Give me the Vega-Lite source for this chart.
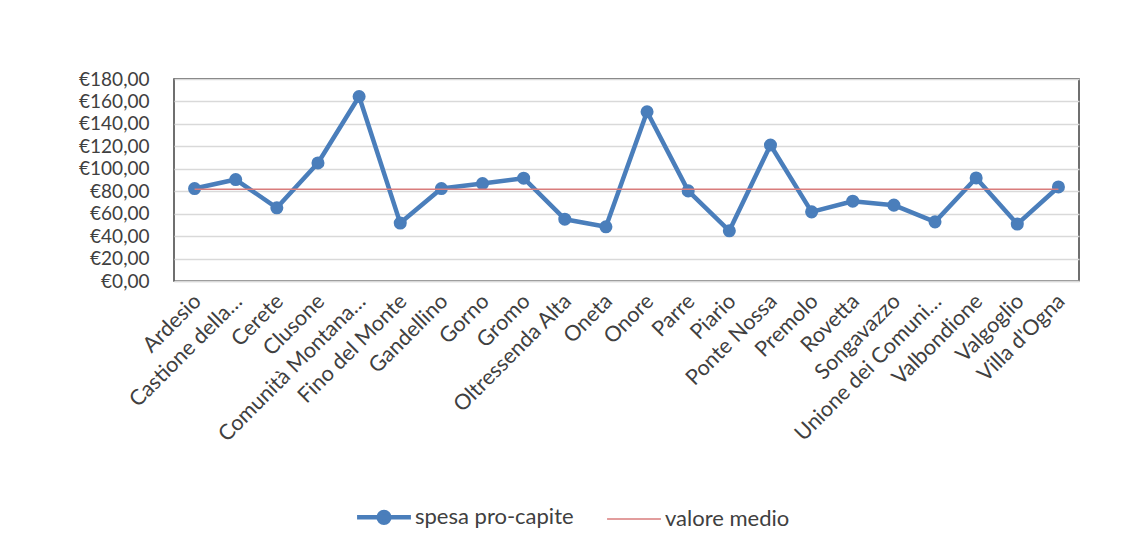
{
  "$schema": "https://vega.github.io/schema/vega-lite/v6.json",
  "autosize": {"type": "none"},
  "padding": {"left": 174, "top": 79, "right": 47, "bottom": 265},
  "width": 905,
  "height": 202,
  "background": "white",
  "config": {
    "font": "Lato",
    "view": {"stroke": "#404040", "strokeWidth": 1.5},
    "axis": {"labelFont": "Lato", "labelColor": "#404040", "ticks": false, "domain": false}
  },
  "data": {
    "values": [
      {"comune": "Ardesio", "spesa pro-capite": 82.4, "valore medio": 81.8},
      {"comune": "Castione della…", "spesa pro-capite": 90.4, "valore medio": 81.8},
      {"comune": "Cerete", "spesa pro-capite": 65.2, "valore medio": 81.8},
      {"comune": "Clusone", "spesa pro-capite": 105.2, "valore medio": 81.8},
      {"comune": "Comunità Montana…", "spesa pro-capite": 164.4, "valore medio": 81.8},
      {"comune": "Fino del Monte", "spesa pro-capite": 51.6, "valore medio": 81.8},
      {"comune": "Gandellino", "spesa pro-capite": 82.4, "valore medio": 81.8},
      {"comune": "Gorno", "spesa pro-capite": 86.8, "valore medio": 81.8},
      {"comune": "Gromo", "spesa pro-capite": 91.6, "valore medio": 81.8},
      {"comune": "Oltressenda Alta", "spesa pro-capite": 55.1, "valore medio": 81.8},
      {"comune": "Oneta", "spesa pro-capite": 48.3, "valore medio": 81.8},
      {"comune": "Onore", "spesa pro-capite": 150.8, "valore medio": 81.8},
      {"comune": "Parre", "spesa pro-capite": 80.3, "valore medio": 81.8},
      {"comune": "Piario", "spesa pro-capite": 44.7, "valore medio": 81.8},
      {"comune": "Ponte Nossa", "spesa pro-capite": 121.2, "valore medio": 81.8},
      {"comune": "Premolo", "spesa pro-capite": 61.6, "valore medio": 81.8},
      {"comune": "Rovetta", "spesa pro-capite": 71.1, "valore medio": 81.8},
      {"comune": "Songavazzo", "spesa pro-capite": 67.6, "valore medio": 81.8},
      {"comune": "Unione dei Comuni…", "spesa pro-capite": 52.7, "valore medio": 81.8},
      {"comune": "Valbondione", "spesa pro-capite": 91.8, "valore medio": 81.8},
      {"comune": "Valgoglio", "spesa pro-capite": 50.7, "valore medio": 81.8},
      {"comune": "Villa d'Ogna", "spesa pro-capite": 83.8, "valore medio": 81.8}
    ]
  },
  "transform": [{"fold": ["spesa pro-capite", "valore medio"], "as": ["serie", "valore"]}],
  "encoding": {
    "x": {
      "field": "comune", "type": "nominal", "sort": null, "title": null,
      "scale": {"type": "point", "padding": 0.5},
      "axis": {"labelAngle": -45, "labelAlign": "right", "labelBaseline": "middle", "labelPadding": 17, "labelOffset": 3, "labelLimit": 0, "labelOverlap": false, "labelFontSize": 21.5, "grid": false, "domain": true, "domainColor": "#d9d9d9", "domainWidth": 1.5}
    },
    "y": {
      "field": "valore", "type": "quantitative", "title": null,
      "scale": {"domain": [0, 180], "nice": false},
      "axis": {"values": [0, 20, 40, 60, 80, 100, 120, 140, 160, 180], "labelExpr": "'€' + replace(format(datum.value, '.2f'), '.', ',')", "labelOverlap": false, "labelPadding": 25, "labelFontSize": 19, "gridColor": "#d9d9d9", "gridWidth": 1.5}
    },
    "color": {
      "field": "serie", "type": "nominal", "title": null,
      "scale": {"domain": ["spesa pro-capite", "valore medio"], "range": ["#4a7ebb", "#d97c7c"]},
      "legend": {
        "orient": "none", "legendX": 199, "legendY": 427, "direction": "horizontal",
        "labelFont": "Lato", "labelFontSize": 22, "labelColor": "#404040",
        "symbolSize": 2900, "symbolStrokeWidth": 4,
        "columnPadding": 30, "labelOffset": 20,
        "encode": {
          "symbols": {
            "update": {
              "shape": {"signal": "datum.value === 'spesa pro-capite' ? 'M-1,0L1,0M0.2,0A0.2,0.2 0 1,1 -0.2,0A0.2,0.2 0 1,1 0.2,0Z' : 'M-1,0L1,0'"},
              "strokeWidth": {"signal": "datum.value === 'spesa pro-capite' ? 4.5 : 1.5"},
              "fill": {"signal": "datum.value === 'spesa pro-capite' ? '#4a7ebb' : 'transparent'"}
            }
          }
        }
      }
    }
  },
  "layer": [
    {
      "transform": [{"filter": "datum.serie === 'spesa pro-capite'"}],
      "mark": {"type": "line", "strokeWidth": 4.5, "strokeJoin": "round"}
    },
    {
      "transform": [{"filter": "datum.serie === 'spesa pro-capite'"}],
      "mark": {"type": "point", "filled": true, "size": 170, "opacity": 1}
    },
    {
      "transform": [{"filter": "datum.serie === 'valore medio'"}],
      "mark": {"type": "line", "strokeWidth": 1.5}
    }
  ]
}
